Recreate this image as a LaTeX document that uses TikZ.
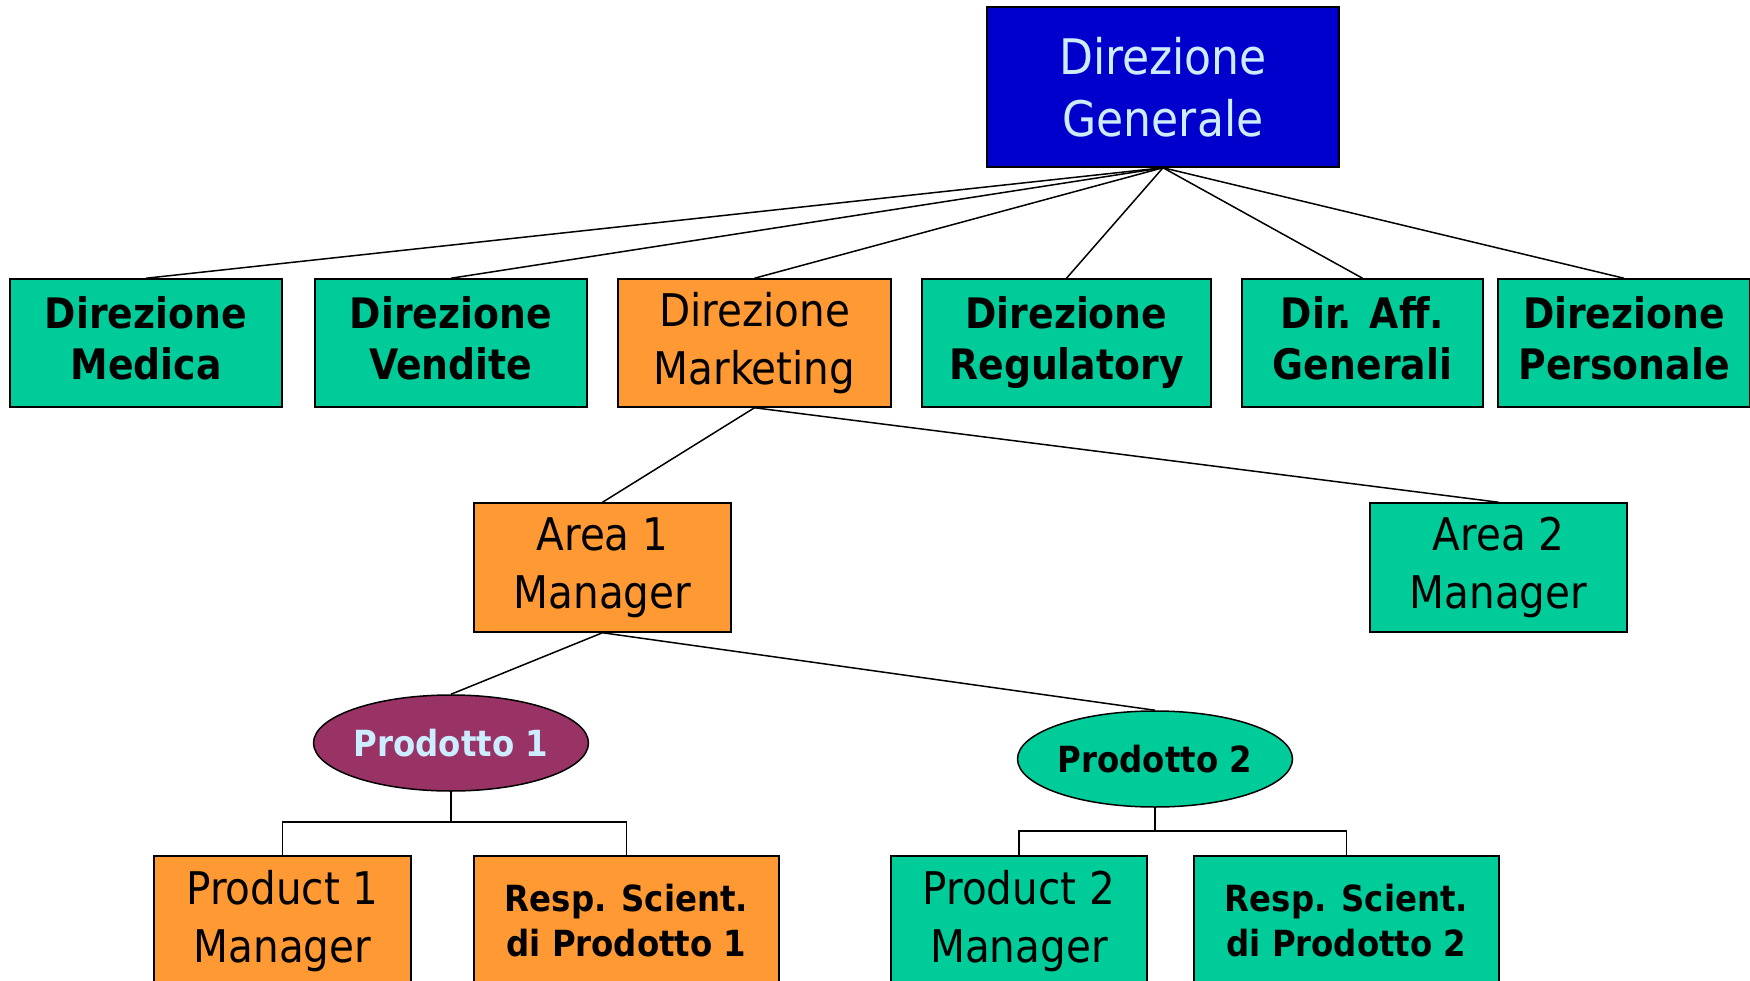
\documentclass[tikz,border=0pt]{standalone}
\usepackage{fontspec}
\setmainfont{DejaVu Sans Condensed}
\usetikzlibrary{shapes.geometric}

\definecolor{verde}{HTML}{00CC99}
\definecolor{arancio}{HTML}{FF9933}
\definecolor{blu}{HTML}{0000CC}
\definecolor{viola}{HTML}{993366}
\definecolor{celeste}{HTML}{CCECFF}

\tikzset{
  box/.style={draw=black, line width=1.5pt, inner sep=0pt, align=center, minimum height=128pt},
  dirbox/.style={box, fill=verde, font=\bfseries\fontsize{42}{51}\selectfont,
    execute at end node={\vphantom{gy}}},
  areabox/.style={box, font=\fontsize{45}{58}\selectfont},
  prodotto/.style={ellipse, draw=black, line width=1.5pt, inner sep=0pt,
    minimum width=272pt, minimum height=96pt, font=\bfseries\fontsize{36}{44}\selectfont},
  respbox/.style={box, minimum height=130pt, font=\bfseries\fontsize{36}{45}\selectfont},
  link/.style={draw=black, line width=1.5pt}
}

\begin{document}
\begin{tikzpicture}[x=1pt, y=-1pt]
    \useasboundingbox (0,0) rectangle (1750,981);
    \clip (0,0) rectangle (1750,981);

    \node[box, fill=blu, text=celeste, minimum width=352pt, minimum height=160pt,
          font=\fontsize{49}{62}\selectfont] (generale) at (1163,87) {Direzione\\Generale};

    % primo livello
    \node[dirbox, minimum width=272pt] (medica) at (146,343) {Direzione\\Medica};
    \node[dirbox, minimum width=272pt] (vendite) at (451,343) {Direzione\\Vendite};
    \node[areabox, fill=arancio, minimum width=273pt] (marketing) at (754.5,343) {Direzione\\Marketing};
    \node[dirbox, minimum width=289pt] (regulatory) at (1066.5,343) {Direzione\\Regulatory};
    \node[dirbox, minimum width=241pt] (affari) at (1362.5,343) {Dir. Aff.\\Generali};
    \node[dirbox, minimum width=252pt] (personale) at (1624,343) {Direzione\\Personale};

    \draw[link] (generale.south) -- (medica.north);
    \draw[link] (generale.south) -- (vendite.north);
    \draw[link] (generale.south) -- (marketing.north);
    \draw[link] (generale.south) -- (regulatory.north);
    \draw[link] (generale.south) -- (affari.north);
    \draw[link] (generale.south) -- (personale.north);

    % aree
    \node[areabox, fill=arancio, minimum width=257pt, minimum height=129pt] (area1) at (602.5,567.5) {Area 1\\Manager};
    \node[areabox, fill=verde, minimum width=257pt, minimum height=129pt] (area2) at (1498.5,567.5) {Area 2\\Manager};

    \draw[link] (marketing.south) -- (area1.north);
    \draw[link] (marketing.south) -- (area2.north);

    % prodotti
    \node[prodotto, fill=viola, text=celeste] (prod1) at (451,743) {Prodotto 1};
    \node[prodotto, fill=verde] (prod2) at (1155,759) {Prodotto 2};

    \draw[link] (area1.south) -- (prod1.north);
    \draw[link] (area1.south) -- (prod2.north);

    \node[areabox, fill=arancio, minimum width=257pt, minimum height=130pt] (pm1) at (282.5,921) {Product 1\\Manager};
    \node[respbox, fill=arancio, minimum width=305pt] (rs1) at (626.5,921) {Resp. Scient.\\di Prodotto 1};
    \node[areabox, fill=verde, minimum width=256pt, minimum height=130pt] (pm2) at (1019,921) {Product 2\\Manager};
    \node[respbox, fill=verde, minimum width=305pt] (rs2) at (1346.5,921) {Resp. Scient.\\di Prodotto 2};

    \coordinate (snodo1) at (451,822);
    \coordinate (snodo2) at (1155,831);
    \draw[link] (prod1.south) -- (snodo1);
    \draw[link] (snodo1) -| (pm1.north);
    \draw[link] (snodo1) -| (rs1.north);
    \draw[link] (prod2.south) -- (snodo2);
    \draw[link] (snodo2) -| (pm2.north);
    \draw[link] (snodo2) -| (rs2.north);
\end{tikzpicture}
\end{document}
